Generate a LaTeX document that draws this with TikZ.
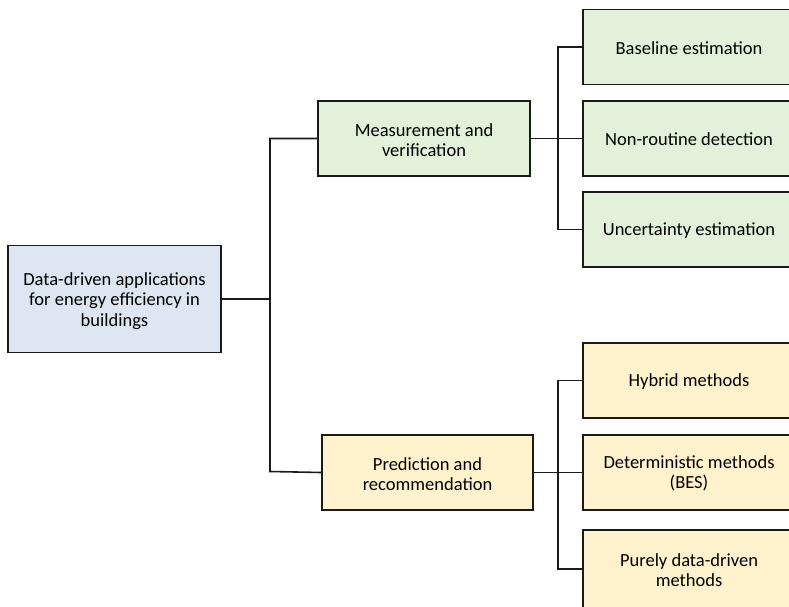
\documentclass[tikz,border=0pt]{standalone}
\usepackage{fontspec}
\setmainfont{Carlito}
\definecolor{rootfill}{HTML}{DEE6F2}
\definecolor{mvfill}{HTML}{E3F0DA}
\definecolor{prfill}{HTML}{FFF2CC}
\definecolor{edge}{HTML}{1A1A1A}
\begin{document}
\begin{tikzpicture}[x=1pt,y=-1pt,
  box/.style={draw=edge,line width=1.6pt,rectangle,inner sep=0pt,align=center,
    font=\fontsize{18.5}{20.5}\selectfont},
  lbl/.style={font=\fontsize{18.5}{20.5}\selectfont,align=center},
  conn/.style={draw=edge,line width=1.6pt}]
\useasboundingbox (0,0) rectangle (789,607);
\begin{scope}
\clip (0,0) rectangle (789,607);
\node[box,fill=rootfill,minimum width=213pt,minimum height=107pt] (root) at (114.5,299) {};
\node[box,fill=mvfill,minimum width=212pt,minimum height=75pt] (mv) at (424,138.5) {};
\node[box,fill=prfill,minimum width=211pt,minimum height=75pt] (pr) at (427.5,472.5) {};
% leaves (extend beyond the right edge)
\node[box,fill=mvfill,minimum width=220pt,minimum height=75pt] (l1) at (693,47) {};
\node[box,fill=mvfill,minimum width=220pt,minimum height=75pt] (l2) at (693,138.5) {};
\node[box,fill=mvfill,minimum width=220pt,minimum height=75pt] (l3) at (693,229.5) {};
\node[box,fill=prfill,minimum width=220pt,minimum height=75pt] (l4) at (693,380.5) {};
\node[box,fill=prfill,minimum width=220pt,minimum height=75pt] (l5) at (693,472.5) {};
\node[box,fill=prfill,minimum width=220pt,minimum height=90pt] (l6) at (693,575) {};
\end{scope}
\node[lbl] (t0) at (114.5,301) {Data-driven applications\\for energy efficiency in\\buildings};
\node[lbl] (tmv) at (424,140) {Measurement and\\verification};
\node[lbl] (tpr) at (427.5,474) {Prediction and\\recommendation};
\node[lbl] (t1) at (689,48) {Baseline estimation};
\node[lbl] (t2) at (689,139.5) {Non-routine detection};
\node[lbl] (t3) at (689,230.5) {Uncertainty estimation};
\node[lbl] (t4) at (689,381.5) {Hybrid methods};
\node[lbl] (t5) at (689,473.5) {Deterministic methods\\(BES)};
\node[lbl] (t6) at (689,570) {Purely data-driven\\methods};
\coordinate (j0) at (270,299);
\coordinate (j1) at (558,138.5);
\coordinate (j2) at (558,472.5);
\draw[conn] (root.east) -- (j0);
\draw[conn] (mv.west) -- (270,138.5) -- (270,471.5) -- (pr.west);
\draw[conn] (mv.east) -- (j1);
\draw[conn] (l1.west) -- (558,47) -- (558,229.5) -- (l3.west);
\draw[conn] (j1) -- (l2.west);
\draw[conn] (pr.east) -- (j2);
\draw[conn] (l4.west) -- (558,380.5) -- (558,569) -- (583,569);
\draw[conn] (j2) -- (l5.west);
\end{tikzpicture}
\end{document}
